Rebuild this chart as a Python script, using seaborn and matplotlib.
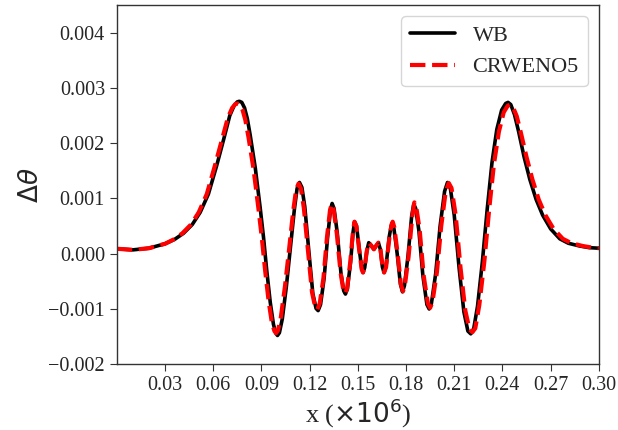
import numpy as np
import pandas as pd
import matplotlib
matplotlib.use("Agg")
import matplotlib.pyplot as plt
import seaborn as sns

# values (x in units of 1e6)
wb_x = [0.000, 0.010, 0.020, 0.030, 0.036, 0.0415, 0.047, 0.0519, 0.057, 0.0622,
        0.0665, 0.0703, 0.073, 0.0750, 0.0763, 0.0778, 0.0795, 0.0812, 0.083, 0.0862,
        0.0892, 0.0913, 0.0933, 0.0955, 0.0975, 0.0990, 0.1000, 0.1012, 0.1030, 0.1055,
        0.1080, 0.1105, 0.1122, 0.1137, 0.1152, 0.1170, 0.1195, 0.1220, 0.1240, 0.1253,
        0.1268, 0.1290, 0.1312, 0.1330, 0.1340, 0.1352, 0.1372, 0.1395, 0.1412, 0.1423,
        0.1435, 0.1455, 0.1470, 0.1480, 0.1492, 0.1510, 0.1525, 0.1533, 0.1543, 0.1556,
        0.1568, 0.1583, 0.1600, 0.1613, 0.1628, 0.1640, 0.1653, 0.1663, 0.1675, 0.1695,
        0.1708, 0.1715, 0.1725, 0.1745, 0.1765, 0.1778, 0.1790, 0.1812, 0.1835, 0.1848,
        0.1860, 0.1880, 0.1905, 0.1930, 0.1944, 0.1958, 0.1985, 0.2012, 0.2040, 0.2058,
        0.2075, 0.2100, 0.2130, 0.2160, 0.2185, 0.2203, 0.2220, 0.2245, 0.2275, 0.2305,
        0.2335, 0.2365, 0.2395, 0.2420, 0.2435, 0.2452, 0.2475, 0.2500, 0.2535, 0.2570,
        0.2610, 0.2650, 0.2700, 0.2757, 0.2810, 0.2880, 0.2940, 0.3000]
wb_y = [0.00009, 0.00007, 0.00010, 0.00018, 0.00026, 0.00037, 0.00053, 0.00075, 0.00108, 0.00160,
        0.00207, 0.00250, 0.00268, 0.00275, 0.00276, 0.00274, 0.00264, 0.00245, 0.00215, 0.00155,
        0.00084, 0.00030, -0.00030, -0.00088, -0.00128, -0.00144, -0.00148, -0.00143, -0.00118, -0.00060,
        0.00010, 0.00080, 0.00118, 0.00129, 0.00120, 0.00085, 0.00005, -0.00072, -0.00099, -0.00103,
        -0.00092, -0.00045, 0.00030, 0.00080, 0.00091, 0.00082, 0.00038, -0.00035, -0.00067, -0.00073,
        -0.00064, -0.00015, 0.00038, 0.00058, 0.00050, 0.00006, -0.00028, -0.00034, -0.00025, 0.00005,
        0.00020, 0.00015, 0.00008, 0.00014, 0.00020, 0.00008, -0.00024, -0.00034, -0.00024, 0.00030,
        0.00051, 0.00054, 0.00045, 0.00000, -0.00055, -0.00069, -0.00058, -0.00005, 0.00068, 0.00090,
        0.00082, 0.00042, -0.00040, -0.00092, -0.00100, -0.00090, -0.00035, 0.00050, 0.00113, 0.00129,
        0.00120, 0.00070, -0.00025, -0.00105, -0.00140, -0.00145, -0.00138, -0.00095, -0.00015, 0.00080,
        0.00165, 0.00225, 0.00260, 0.00272, 0.00274, 0.00270, 0.00252, 0.00222, 0.00175, 0.00135,
        0.00098, 0.00070, 0.00045, 0.00027, 0.00019, 0.00014, 0.00011, 0.00010]

cr_x = [0.000, 0.010, 0.020, 0.030, 0.0355, 0.0408, 0.0462, 0.0510, 0.0560, 0.0611,
        0.0653, 0.0691, 0.0718, 0.0738, 0.0751, 0.0766, 0.0783, 0.0800, 0.0819, 0.0851,
        0.0881, 0.0902, 0.0923, 0.0945, 0.0965, 0.0981, 0.0991, 0.1003, 0.1021, 0.1047,
        0.1073, 0.1098, 0.1116, 0.1131, 0.1146, 0.1164, 0.1190, 0.1215, 0.1235, 0.1248,
        0.1263, 0.1286, 0.1308, 0.1327, 0.1337, 0.1349, 0.1369, 0.1393, 0.1410, 0.1421,
        0.1433, 0.1453, 0.1469, 0.1479, 0.1491, 0.1509, 0.1524, 0.1532, 0.1542, 0.1556,
        0.1568, 0.1583, 0.1600, 0.1613, 0.1628, 0.1641, 0.1654, 0.1664, 0.1676, 0.1697,
        0.1710, 0.1717, 0.1727, 0.1748, 0.1768, 0.1781, 0.1793, 0.1816, 0.1839, 0.1852,
        0.1864, 0.1885, 0.1910, 0.1936, 0.1950, 0.1964, 0.1992, 0.2019, 0.2047, 0.2066,
        0.2083, 0.2109, 0.2139, 0.2169, 0.2195, 0.2213, 0.2231, 0.2256, 0.2287, 0.2317,
        0.2347, 0.2378, 0.2408, 0.2433, 0.2448, 0.2465, 0.2489, 0.2514, 0.2550, 0.2586,
        0.2626, 0.2667, 0.2718, 0.2776, 0.2830, 0.2900, 0.2960, 0.3000]
cr_y = [0.00009, 0.00007, 0.00010, 0.00018, 0.00026, 0.00037, 0.00053, 0.00075, 0.00108, 0.00160,
        0.00205, 0.00246, 0.00264, 0.00271, 0.00272, 0.00270, 0.00260, 0.00242, 0.00212, 0.00153,
        0.00083, 0.00030, -0.00030, -0.00086, -0.00125, -0.00140, -0.00144, -0.00139, -0.00115, -0.00058,
        0.00010, 0.00078, 0.00116, 0.00127, 0.00118, 0.00083, 0.00005, -0.00070, -0.00097, -0.00101,
        -0.00090, -0.00044, 0.00030, 0.00079, 0.00090, 0.00081, 0.00037, -0.00035, -0.00066, -0.00072,
        -0.00063, -0.00015, 0.00038, 0.00058, 0.00050, 0.00006, -0.00028, -0.00034, -0.00025, 0.00005,
        0.00020, 0.00015, 0.00008, 0.00014, 0.00020, 0.00008, -0.00024, -0.00034, -0.00024, 0.00030,
        0.00053, 0.00058, 0.00048, 0.00000, -0.00055, -0.00068, -0.00057, -0.00005, 0.00068, 0.00093,
        0.00084, 0.00043, -0.00040, -0.00090, -0.00098, -0.00088, -0.00034, 0.00050, 0.00113, 0.00128,
        0.00119, 0.00070, -0.00025, -0.00103, -0.00137, -0.00142, -0.00135, -0.00093, -0.00015, 0.00079,
        0.00162, 0.00221, 0.00256, 0.00268, 0.00270, 0.00266, 0.00249, 0.00220, 0.00175, 0.00135,
        0.00098, 0.00070, 0.00045, 0.00027, 0.00019, 0.00014, 0.00011, 0.00010]

x_ticks = [0.03, 0.06, 0.09, 0.12, 0.15, 0.18, 0.21, 0.24, 0.27, 0.30]
y_ticks = [-0.002, -0.001, 0.000, 0.001, 0.002, 0.003, 0.004]

df_wb = pd.DataFrame({"x": wb_x, "y": wb_y})
df_cr = pd.DataFrame({"x": cr_x, "y": cr_y})

sns.set_style("ticks")
plt.rcParams["font.family"] = ["Liberation Serif", "DejaVu Sans"]
plt.rcParams["mathtext.fontset"] = "dejavusans"

fig = plt.figure(figsize=(6.18, 4.30), dpi=100)
ax = fig.add_axes([0.189, 0.153, 0.780, 0.835])

sns.lineplot(data=df_wb, x="x", y="y", color="black", linewidth=2.6, label="WB", ax=ax)
sns.lineplot(data=df_cr, x="x", y="y", color="red", linewidth=3.0, linestyle="--",
             label="CRWENO5", ax=ax)

ax.set_xlim(0, 0.3)
ax.set_ylim(-0.002, 0.0045)
ax.set_xticks(x_ticks)
ax.set_yticks(y_ticks)
ax.tick_params(labelsize=14.5, direction="out", length=5, color="#333333")
ax.set_xlabel(r"x ($\times10^6$)", fontsize=19, labelpad=1)
ax.set_ylabel(r"$\Delta\theta$", fontsize=19)
for s in ax.spines.values():
    s.set_color("#333333")
    s.set_linewidth(1.0)

leg = ax.legend(loc="upper right", fontsize=16, frameon=True)
leg.get_frame().set_edgecolor("#cccccc")

fig.savefig("out.png", dpi=100)
